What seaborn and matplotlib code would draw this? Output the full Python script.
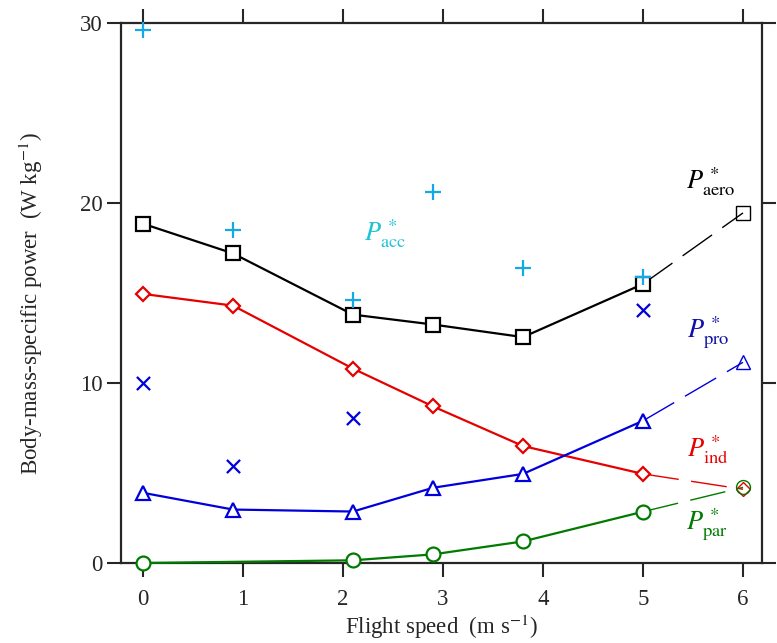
import numpy as np
import pandas as pd
import matplotlib
matplotlib.use("Agg")
import matplotlib.pyplot as plt
import seaborn as sns

# flight speed (m/s)
speed = [0, 0.9, 2.1, 2.9, 3.8, 5.0, 6.0]
par_speed = [0, 2.1, 2.9, 3.8, 5.0, 6.0]

p_aero = [18.85, 17.2, 13.8, 13.25, 12.55, 15.5, 19.45]
p_ind = [14.95, 14.3, 10.8, 8.7, 6.5, 4.95, 4.1]
p_pro = [3.9, 2.97, 2.86, 4.18, 4.95, 7.9, 11.15]
p_par = [0.0, 0.15, 0.48, 1.2, 2.85, 4.2]

acc_speed = [0, 0.9, 2.1, 2.9, 3.8, 5.0]
p_acc = [29.6, 18.5, 14.6, 20.6, 16.4, 15.9]

x_speed = [0, 0.9, 2.1, 5.0]
p_x = [10.0, 5.4, 8.05, 14.05]

sns.set_style("ticks")
plt.rcParams["font.family"] = ["Liberation Serif", "DejaVu Serif"]
plt.rcParams["mathtext.fontset"] = "stix"

fig = plt.figure(figsize=(7.77, 6.43), dpi=100)
ax = fig.add_axes([0.1557, 0.1244, 0.8250, 0.8398])

series = [
    (speed, p_aero, "black", "s", 10),
    (speed, p_ind, "#e60000", "D", 7),
    (speed, p_pro, "#0000dd", "^", 10),
    (par_speed, p_par, "#007a00", "o", 10),
]

for xs, vals, col, mk, ms in series:
    df = pd.DataFrame({"speed": xs, "power": vals})
    solid = df.iloc[:-1]
    dash = df.iloc[-2:]
    sns.lineplot(data=solid, x="speed", y="power", ax=ax, color=col, lw=1.6,
                 marker=mk, markersize=ms, markerfacecolor="white",
                 markeredgecolor=col, markeredgewidth=1.6, clip_on=False,
                 zorder=3)
    sns.lineplot(data=dash, x="speed", y="power", ax=ax, color=col, lw=1.0,
                 linestyle=(0, (26, 9)), clip_on=False, zorder=2)
    ax.plot(dash["speed"].iloc[-1], dash["power"].iloc[-1], marker=mk,
            markersize=ms, markerfacecolor="none", markeredgecolor=col,
            markeredgewidth=1.0, linestyle="none", clip_on=False, zorder=3)

sns.scatterplot(x=acc_speed, y=p_acc, ax=ax, marker="+", s=130, color="#14a8e6",
                linewidth=1.6, clip_on=False, zorder=4)
sns.scatterplot(x=x_speed, y=p_x, ax=ax, marker="x", s=90, color="#0000dd",
                linewidth=1.6, clip_on=False, zorder=4)

lbl = dict(fontsize=19, ha="center", va="center")
ax.text(5.68, 21.2, r"$P^{\,*}_{\rm aero}$", color="black", **lbl)
ax.text(2.42, 18.3, r"$P^{\,*}_{\rm acc}$", color="#1cc4d4", **lbl)
ax.text(5.65, 12.8, r"$P^{\,*}_{\rm pro}$", color="#1010a8", **lbl)
ax.text(5.65, 6.3, r"$P^{\,*}_{\rm ind}$", color="#e60000", **lbl)
ax.text(5.64, 2.15, r"$P^{\,*}_{\rm par}$", color="#007a00", **lbl)

ax.set_xlim(-0.22, 6.19)
ax.set_ylim(0, 30)
ax.set_xticks(range(7))
ax.set_yticks([0, 10, 20, 30])

for sp in ax.spines.values():
    sp.set_visible(True)
    sp.set_linewidth(1.6)
ax.tick_params(direction="out", length=10, width=1.5, labelsize=16.5,
               top=True, right=True, labeltop=False, labelright=False)
ax.tick_params(axis="x", pad=9)
ax.tick_params(axis="y", pad=3)

ax.set_xlabel(r"Flight speed  (m s$^{-1}$)", fontsize=16.5)
ax.xaxis.set_label_coords(0.5, -0.092)
ax.set_ylabel(r"Body-mass-specific power  (W kg$^{-1}$)", fontsize=16.5)
ax.yaxis.set_label_coords(-0.118, 0.48)

fig.savefig("out.png", dpi=100)
